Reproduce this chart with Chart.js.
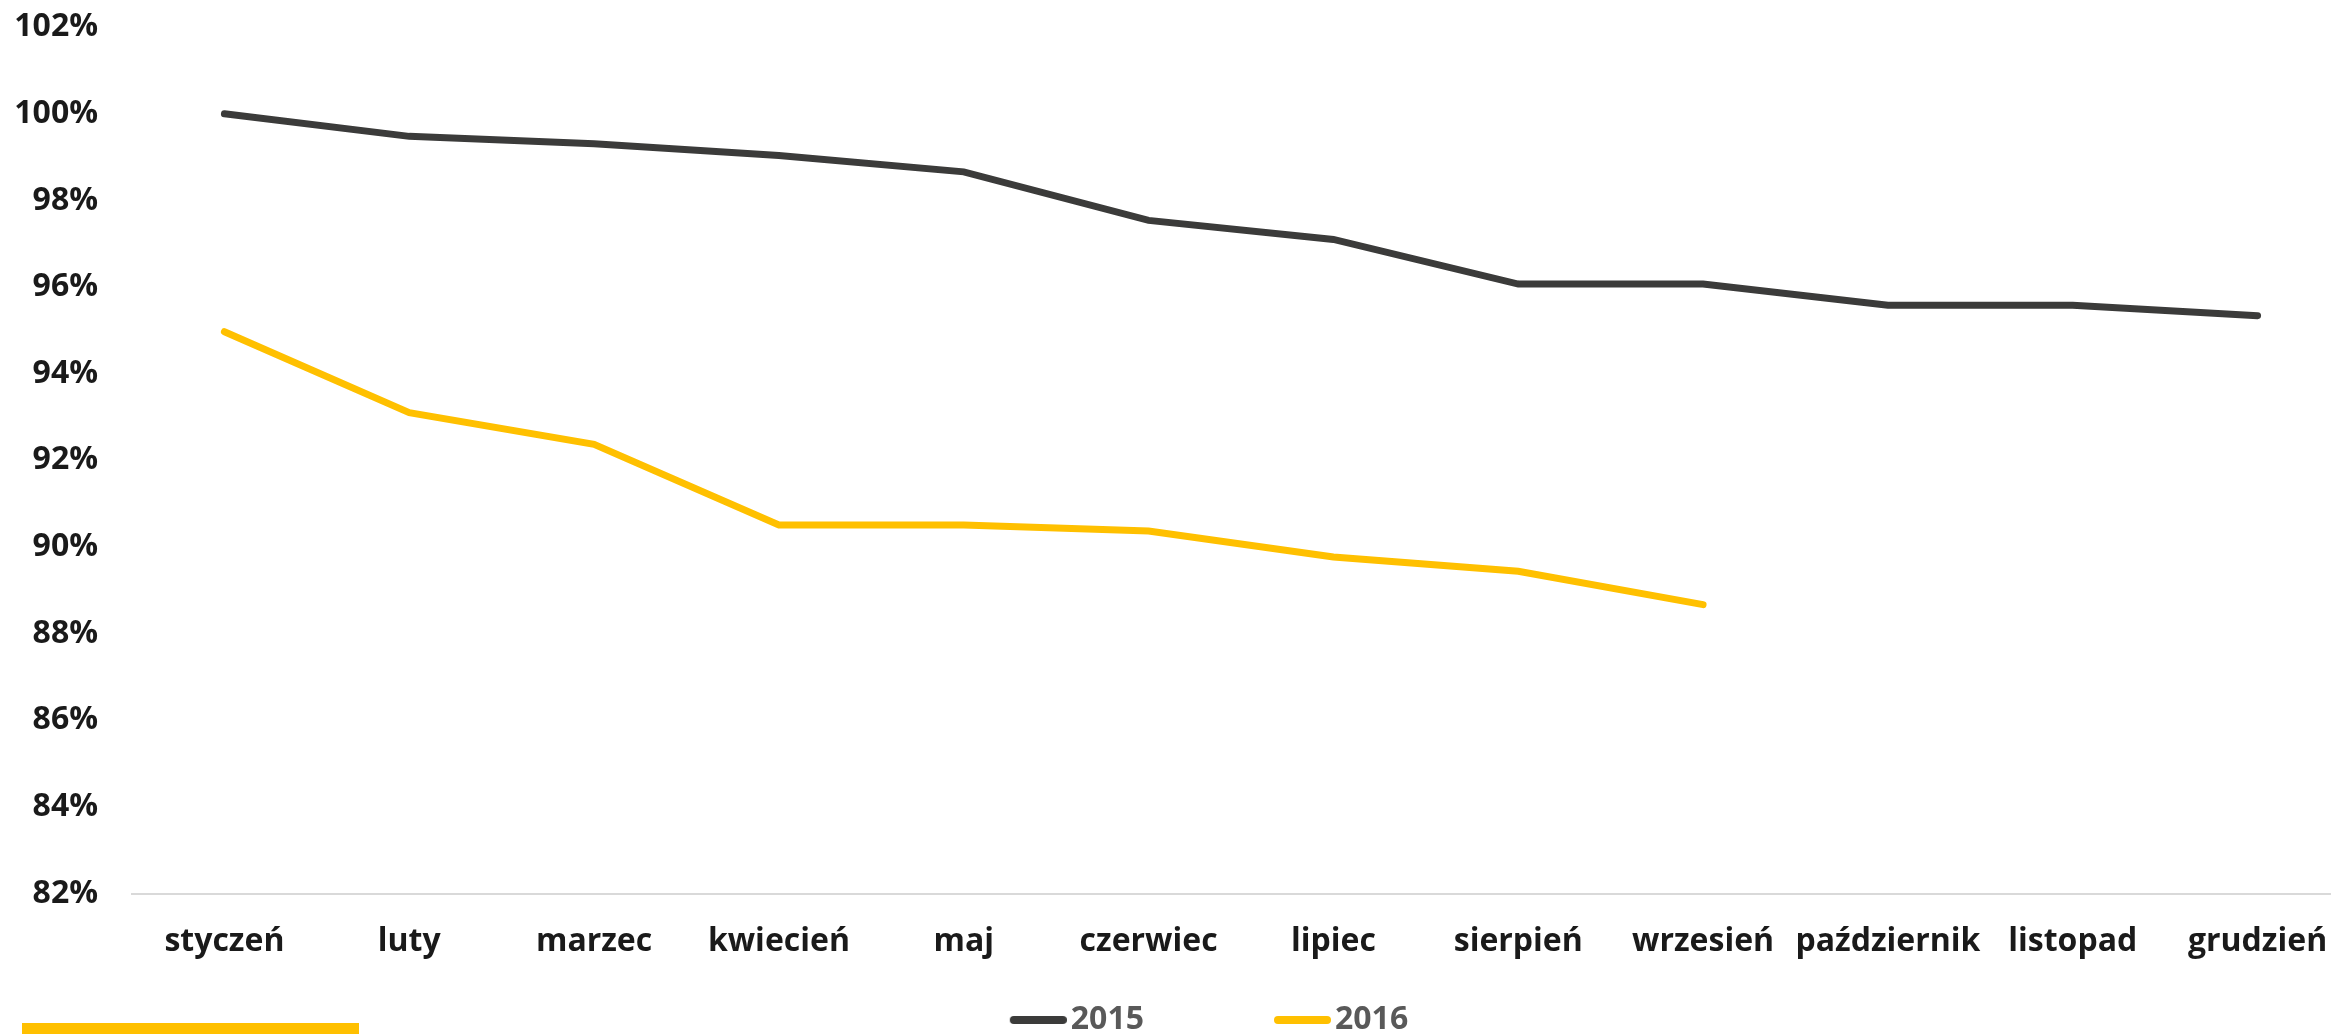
<!DOCTYPE html>
<html>
<head>
<meta charset="utf-8">
<script src="https://cdn.jsdelivr.net/npm/chart.js"></script>
<style>
  html, body { margin: 0; padding: 0; background: #ffffff; width: 2331px; height: 1034px; overflow: hidden; position: relative; }
  #wrap { position: absolute; left: -32px; top: 0; width: 2382px; height: 1046px; }
  #bar { position: absolute; left: 22px; top: 1023px; width: 337px; height: 11px; background: #FFC000; }
</style>
</head>
<body>
<div id="wrap"><canvas id="chart"></canvas></div>
<div id="bar"></div>
<script>
// ---- data ----
const months = ['styczeń', 'luty', 'marzec', 'kwiecień', 'maj', 'czerwiec', 'lipiec', 'sierpień', 'wrzesień', 'październik', 'listopad', 'grudzień'];
const seriesNames = ['2015', '2016'];
const values2015 = [100.0, 99.48, 99.31, 99.04, 98.66, 97.54, 97.10, 96.07, 96.07, 95.58, 95.58, 95.34];
const values2016 = [94.97, 93.10, 92.37, 90.51, 90.51, 90.37, 89.77, 89.44, 88.67, null, null, null];
const yMin = 82, yMax = 102, yStep = 2;

// ---- styling ----
const FONT = "'Open Sans', 'Noto Sans', sans-serif";
const colors = ['#3b3b3a', '#FFC000'];

function makeMarker(color) {
  const c = document.createElement('canvas');
  c.width = 169; c.height = 10;
  const g = c.getContext('2d');
  g.strokeStyle = color; g.lineWidth = 8; g.lineCap = 'round';
  g.beginPath(); g.moveTo(169 - 57 + 4, 5); g.lineTo(169 - 4, 5); g.stroke();
  return c;
}
const markers = colors.map(makeMarker);

new Chart(document.getElementById('chart'), {
  type: 'line',
  data: {
    labels: months,
    datasets: [
      { label: seriesNames[0], data: values2015, borderColor: colors[0], backgroundColor: colors[0], borderWidth: 7, borderCapStyle: 'round', pointRadius: 0, pointHoverRadius: 0, tension: 0, fill: false },
      { label: seriesNames[1], data: values2016, borderColor: colors[1], backgroundColor: colors[1], borderWidth: 7, borderCapStyle: 'round', pointRadius: 0, pointHoverRadius: 0, tension: 0, fill: false }
    ]
  },
  options: {
    responsive: true,
    maintainAspectRatio: false,
    animation: false,
    devicePixelRatio: 1,
    layout: { padding: { top: 0, left: 0, right: 0, bottom: 0 } },
    plugins: {
      tooltip: { enabled: false },
      legend: {
        display: true,
        position: 'bottom',
        align: 'center',
        labels: {
          usePointStyle: true,
          pointStyleWidth: 145,
          padding: 30,
          color: '#595959',
          font: { family: FONT, size: 32, weight: 'bold' },
          generateLabels: (chart) => {
            const items = Chart.defaults.plugins.legend.labels.generateLabels(chart);
            items.forEach((it, i) => { it.pointStyle = markers[i]; it.fontColor = '#595959'; });
            return items;
          }
        }
      }
    },
    scales: {
      x: {
        type: 'category',
        offset: true,
        grid: { display: false, drawTicks: false },
        border: { display: true, color: '#d9d9d9', width: 2 },
        ticks: {
          color: '#1a1a1a',
          padding: 16,
          maxRotation: 0,
          autoSkip: false,
          font: { family: FONT, size: 32, weight: 'bold', lineHeight: 2 }
        },
        afterFit: (scale) => { scale.height = 80.5; }
      },
      y: {
        min: yMin,
        max: yMax,
        grid: { display: false, drawTicks: true, tickLength: 26 },
        border: { display: false },
        ticks: {
          stepSize: yStep,
          color: '#1a1a1a',
          padding: 8,
          font: { family: FONT, size: 32, weight: 'bold' },
          callback: (v) => v + '%'
        },
        afterFit: (scale) => { scale.width = 164; }
      }
    }
  }
});
</script>
</body>
</html>
